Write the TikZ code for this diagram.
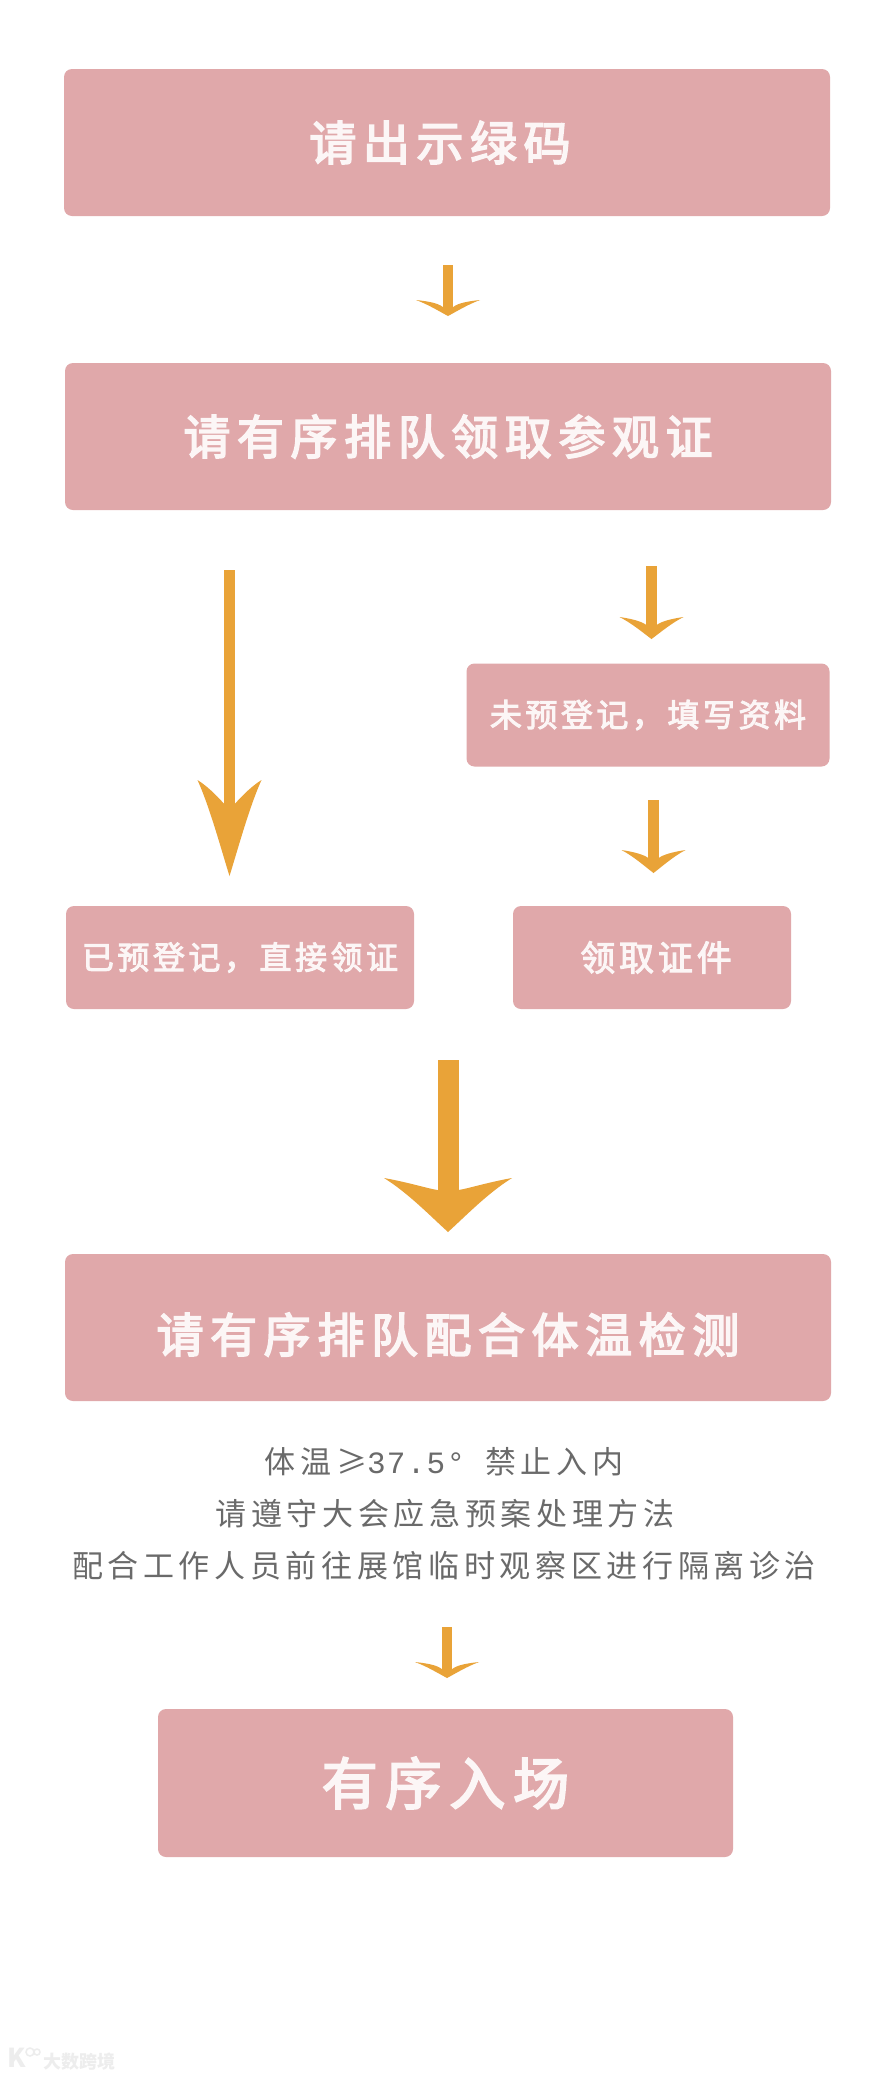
\documentclass[tikz,border=0pt]{standalone}
\usepackage{fontspec}
\setmainfont{Noto Sans CJK SC}
\newfontfamily\lab[LetterSpace=14,FakeBold=3.5]{Noto Sans CJK SC}
\newfontfamily\labs[LetterSpace=11,FakeBold=3]{Noto Sans CJK SC}
\newfontfamily\note[LetterSpace=15]{Noto Sans CJK SC}
\newfontfamily\notelatin[LetterSpace=4]{Liberation Mono}
\definecolor{boxpink}{HTML}{E0A8AA}
\definecolor{arrowor}{HTML}{E9A338}
\definecolor{labelw}{HTML}{FCF6F6}
\definecolor{notegray}{HTML}{6A6A6A}
\definecolor{markgray}{HTML}{EDEDED}
\tikzset{
  flowbox/.style={fill=boxpink,rounded corners=8pt,inner sep=0pt,text=labelw,font=\lab\fontsize{47}{52}\selectfont},
  smallbox/.style={flowbox,font=\labs\fontsize{32}{38}\selectfont},
  notetext/.style={text=notegray,inner sep=0pt,font=\note\fontsize{31}{36}\selectfont},
  markt/.style={text=markgray,inner sep=0pt,font=\fontsize{18}{20}\selectfont\bfseries}
}
% from, to, shaft width, half wing, head length, notch (below wing)
\newcommand{\flowarrow}[6]{%
  \draw[arrowor,line width=#3pt,shorten >=(#5pt-#6pt)*0.7] (#1) -- (#2);
  \begin{scope}[shift={(#2)}]
    \fill[arrowor] (0,0)
      .. controls (-#4*0.28,-#5*0.30) and (-#4*0.62,-#5*0.72) .. (-#4,-#5)
      .. controls (-#4*0.62,-#5*0.92) and (-#4*0.30,-#5*0.80) .. (-#3*0.5,-#5+#6)
      -- (#3*0.5,-#5+#6)
      .. controls (#4*0.30,-#5*0.80) and (#4*0.62,-#5*0.92) .. (#4,-#5)
      .. controls (#4*0.62,-#5*0.72) and (#4*0.28,-#5*0.30) .. (0,0) -- cycle;
  \end{scope}}
\begin{document}
\begin{tikzpicture}[x=1pt,y=-1pt]
\useasboundingbox[fill=white] (0,0) rectangle (880,2077);
\node[flowbox,minimum width=766pt,minimum height=147pt] (b1) at (447,142.5) {\hspace*{-14pt}请出示绿码};
\node[flowbox,minimum width=766pt,minimum height=147pt] (b2) at (448,436.5) {请有序排队领取参观证};
\node[smallbox,minimum width=363pt,minimum height=103pt] (b3) at (648,715) {未预登记，填写资料};
\node[smallbox,minimum width=348pt,minimum height=103pt] (b4) at (240,957.5) {已预登记，直接领证};
\node[smallbox,font=\labs\fontsize{35}{40}\selectfont,minimum width=278pt,minimum height=103pt] (b5) at (652,957.5) {\hspace*{8pt}领取证件};
\node[flowbox,minimum width=766pt,minimum height=147pt] (b6) at (448,1327.5) {\raisebox{-7pt}[\height][\depth]{请有序排队配合体温检测}};
\node[notetext] (n1) at (444,1461.5) {体温≥{\notelatin 37.5°\hspace{20pt}}禁止入内};
\node[notetext] (n2) at (445,1513.5) {请遵守大会应急预案处理方法};
\node[notetext] (n3) at (444,1565.5) {配合工作人员前往展馆临时观察区进行隔离诊治};
\node[flowbox,font=\lab\fontsize{56}{60}\selectfont,minimum width=575pt,minimum height=148pt] (b7) at (445.5,1783) {有序入场};
\coordinate (a1s) at (448,265);
\coordinate (a1e) at (448,316);
\coordinate (a2s) at (229.5,570);
\coordinate (a2e) at (229.5,876);
\coordinate (a3s) at (651.5,566);
\coordinate (a3e) at (651.5,639);
\coordinate (a4s) at (653.5,800);
\coordinate (a4e) at (653.5,873);
\coordinate (a5s) at (448,1060);
\coordinate (a5e) at (448,1232);
\coordinate (a6s) at (447,1627);
\coordinate (a6e) at (447,1678);
\flowarrow{a1s}{a1e}{10.5}{32}{16}{7}
\flowarrow{a2s}{a2e}{10.5}{32}{96}{24}
\flowarrow{a3s}{a3e}{10.5}{32}{22}{8}
\flowarrow{a4s}{a4e}{10.5}{32}{23}{8}
\flowarrow{a5s}{a5e}{21}{64}{54}{12}
\flowarrow{a6s}{a6e}{10.5}{32}{16}{7}
\node[markt] (wm) at (79,2062) {大数跨境};
\node[text=markgray,inner sep=0pt,font=\fontsize{26}{26}\selectfont\bfseries] (wk) at (17,2058) {K};
\draw[markgray,line width=1.5pt] (30,2052) circle (4pt) (37,2052) circle (3pt);
\end{tikzpicture}
\end{document}
